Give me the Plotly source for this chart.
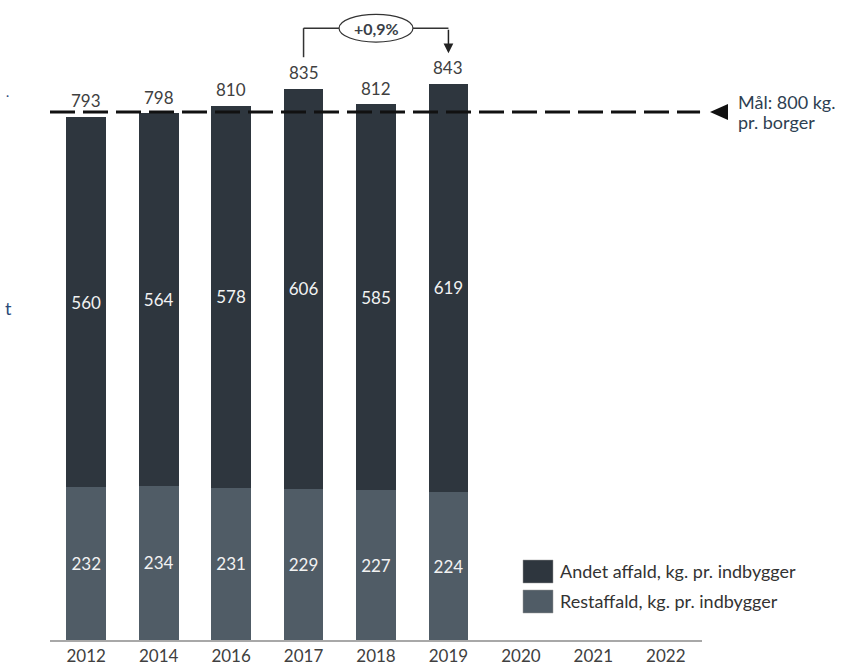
import plotly.graph_objects as go

years = ["2012", "2014", "2016", "2017", "2018", "2019", "2020", "2021", "2022"]
restaffald = [232, 234, 231, 229, 227, 224, None, None, None]
andet = [560, 564, 578, 606, 585, 619, None, None, None]
totals = [793, 798, 810, 835, 812, 843, None, None, None]
goal = 800
change_label = "+0,9%"

C_ANDET = "#2e363e"
C_REST = "#505c66"
FONT = "Lato, 'Open Sans', sans-serif"

fig = go.Figure()
fig.add_trace(go.Bar(
    x=years, y=restaffald, name="Restaffald, kg. pr. indbygger",
    marker=dict(color=C_REST, line=dict(width=0)),
    text=[str(v) if v is not None else "" for v in restaffald],
    textposition="inside", insidetextanchor="middle",
    textfont=dict(color="#f2f2f2", size=17, family=FONT),
    hoverinfo="skip",
))
fig.add_trace(go.Bar(
    x=years, y=andet, name="Andet affald, kg. pr. indbygger",
    marker=dict(color=C_ANDET, line=dict(width=0)),
    text=[str(v) if v is not None else "" for v in andet],
    textposition="inside", insidetextanchor="middle",
    textfont=dict(color="#f2f2f2", size=17, family=FONT),
    hoverinfo="skip",
))

shapes = []
# goal dashed line
shapes.append(dict(type="line", xref="paper", yref="y", x0=0, x1=0.997, y0=goal, y1=goal,
                   line=dict(color="#111111", width=3, dash="25px,8px"), layer="above"))
# triangle
shapes.append(dict(type="path", xref="paper", yref="y",
                   path=f"M 1.0123,{goal} L 1.0399,{goal+12} L 1.0399,{goal-12} Z",
                   fillcolor="#111111", line=dict(width=0)))
# bracket
ytop = 927
shapes.append(dict(type="line", xref="x", yref="y", x0=3, x1=3, y0=883, y1=ytop,
                   line=dict(color="#333333", width=1.5)))
shapes.append(dict(type="line", xref="x", yref="y", x0=3, x1=3.49, y0=ytop, y1=ytop,
                   line=dict(color="#333333", width=1.5)))
shapes.append(dict(type="line", xref="x", yref="y", x0=4.51, x1=5, y0=ytop, y1=ytop,
                   line=dict(color="#333333", width=1.5)))
shapes.append(dict(type="circle", xref="x", yref="y", x0=3.49, x1=4.51, y0=906, y1=948,
                   line=dict(color="#333333", width=1.2), fillcolor="white"))
# legend boxes
shapes.append(dict(type="rect", xref="paper", yref="paper",
                   x0=(523-50)/652, x1=(553-50)/652, y0=(668-28-560)/640, y1=(668-28-583)/640,
                   fillcolor=C_ANDET, line=dict(color="#999999", width=0.5)))
shapes.append(dict(type="rect", xref="paper", yref="paper",
                   x0=(523-50)/652, x1=(553-50)/652, y0=(668-28-590)/640, y1=(668-28-613)/640,
                   fillcolor=C_REST, line=dict(color="#999999", width=0.5)))

annotations = []
# totals above bars (category index positions)
for i, tot in enumerate(totals):
    if tot is None:
        continue
    annotations.append(dict(x=i, y=tot, xref="x", yref="y", text=str(tot), showarrow=False,
                            yanchor="middle", yshift=16,
                            font=dict(size=17, color="#404040", family=FONT)))
annotations.append(dict(x=5, y=889, ax=5, ay=ytop, xref="x", yref="y", axref="x", ayref="y",
                        text="", showarrow=True, arrowhead=2, arrowsize=1.3, arrowwidth=1.5,
                        arrowcolor="#222222"))
annotations.append(dict(x=4, y=927, xref="x", yref="y", text=f"<b>{change_label}</b>",
                        showarrow=False, font=dict(size=16, color="#3a3f48", family=FONT)))
annotations.append(dict(x=(736-50)/652, y=(668-28-102)/640, xref="paper", yref="paper",
                        xanchor="left", yanchor="middle",
                        text="Mål: 800 kg.", align="left", showarrow=False,
                        font=dict(size=18, color="#2e3f52", family=FONT)))
annotations.append(dict(x=(736-50)/652, y=(668-28-122)/640, xref="paper", yref="paper",
                        xanchor="left", yanchor="middle",
                        text="pr. borger", align="left", showarrow=False,
                        font=dict(size=18, color="#2e3f52", family=FONT)))
annotations.append(dict(x=(558-50)/652, y=(668-28-571)/640, xref="paper", yref="paper",
                        xanchor="left", yanchor="middle", text="Andet affald, kg. pr. indbygger",
                        showarrow=False, font=dict(size=18, color="#333333", family=FONT)))
annotations.append(dict(x=(558-50)/652, y=(668-28-601)/640, xref="paper", yref="paper",
                        xanchor="left", yanchor="middle", text="Restaffald, kg. pr. indbygger",
                        showarrow=False, font=dict(size=18, color="#333333", family=FONT)))
# cropped text fragments at left edge
annotations.append(dict(x=(3-50)/652, y=(668-28-308)/640, xref="paper", yref="paper",
                        xanchor="left", yanchor="middle", text="t", showarrow=False,
                        font=dict(size=18, color="#2a4a78", family=FONT)))
annotations.append(dict(x=(4-50)/652, y=(668-28-95)/640, xref="paper", yref="paper",
                        xanchor="left", yanchor="middle", text="·", showarrow=False,
                        font=dict(size=12, color="#2a4a78", family=FONT)))

fig.update_layout(
    width=841, height=668,
    margin=dict(l=50, r=139, t=0, b=28),
    barmode="stack", bargap=0.45,
    plot_bgcolor="white", paper_bgcolor="white",
    showlegend=False,
    shapes=shapes, annotations=annotations,
    font=dict(family=FONT),
    xaxis=dict(type="category", categoryorder="array", categoryarray=years,
               range=[-0.5, 8.5], showline=True, linecolor="#a8a8a8", linewidth=2,
               ticks="", showgrid=False,
               tickfont=dict(size=17, color="#404040", family=FONT)),
    yaxis=dict(range=[0, 640/0.66], visible=False, showgrid=False, zeroline=False),
)

fig.write_html("out.html")
